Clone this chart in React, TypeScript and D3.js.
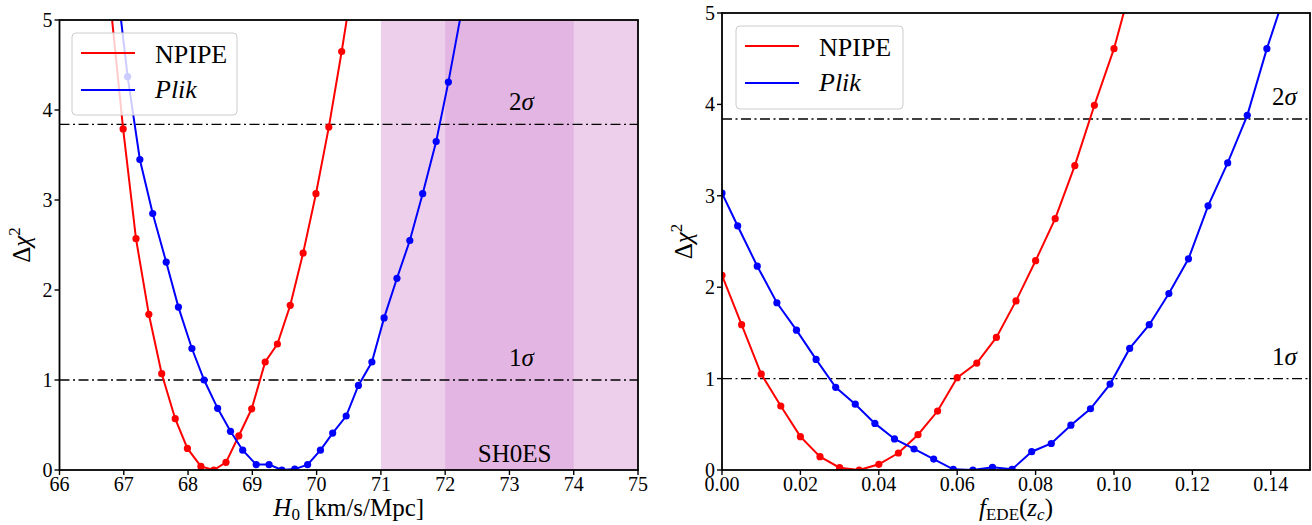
import React from "react";
import * as d3 from "d3";

// ---------- Data ----------
// Left panel: H0 profile
const h0Npipe: number[] = [66.79, 66.99, 67.19, 67.39, 67.59, 67.8, 67.99, 68.2, 68.4, 68.59, 68.79, 68.99, 69.2, 69.39, 69.59, 69.79, 69.99, 70.19, 70.39, 70.59];
const chi2H0Npipe: number[] = [5.2, 3.79, 2.57, 1.73, 1.07, 0.57, 0.24, 0.04, 0.0, 0.085, 0.38, 0.68, 1.2, 1.4, 1.83, 2.41, 3.07, 3.81, 4.65, 5.55];
const h0Plik: number[] = [66.86, 67.06, 67.25, 67.45, 67.66, 67.85, 68.06, 68.25, 68.46, 68.66, 68.85, 69.06, 69.26, 69.46, 69.66, 69.86, 70.06, 70.25, 70.46, 70.65, 70.86, 71.05, 71.25, 71.45, 71.65, 71.86, 72.05, 72.25];
const chi2H0Plik: number[] = [5.6, 4.37, 3.45, 2.85, 2.31, 1.81, 1.35, 1.0, 0.685, 0.43, 0.22, 0.06, 0.06, 0.0, 0.01, 0.06, 0.22, 0.41, 0.6, 0.94, 1.2, 1.69, 2.13, 2.55, 3.07, 3.65, 4.31, 5.08];

// Right panel: f_EDE profile
const fedeNpipe: number[] = [0.0, 0.005, 0.01, 0.015, 0.02, 0.025, 0.03, 0.035, 0.04, 0.045, 0.05, 0.055, 0.06, 0.065, 0.07, 0.075, 0.08, 0.085, 0.09, 0.095, 0.1, 0.105];
const chi2FNpipe: number[] = [2.13, 1.59, 1.05, 0.7, 0.365, 0.146, 0.025, 0.0, 0.062, 0.186, 0.386, 0.645, 1.01, 1.17, 1.45, 1.85, 2.29, 2.75, 3.33, 3.99, 4.61, 5.4];
const fedePlik: number[] = [0.0, 0.004, 0.009, 0.014, 0.019, 0.024, 0.029, 0.034, 0.039, 0.044, 0.049, 0.054, 0.059, 0.064, 0.069, 0.074, 0.079, 0.084, 0.089, 0.094, 0.099, 0.104, 0.109, 0.114, 0.119, 0.124, 0.129, 0.134, 0.139, 0.144];
const chi2FPlik: number[] = [3.03, 2.67, 2.23, 1.83, 1.53, 1.21, 0.905, 0.72, 0.51, 0.34, 0.23, 0.12, 0.008, 0.0, 0.03, 0.008, 0.2, 0.29, 0.49, 0.67, 0.94, 1.33, 1.59, 1.93, 2.31, 2.89, 3.36, 3.88, 4.61, 5.26];

const h0Ticks: number[] = [66, 67, 68, 69, 70, 71, 72, 73, 74, 75];
const fedeTicks: number[] = [0, 0.02, 0.04, 0.06, 0.08, 0.1, 0.12, 0.14];
const yTicks: number[] = [0, 1, 2, 3, 4, 5];
const sigmaLevels: number[] = [1, 3.84];
const sigmaLabels: string[] = ["1", "2"];
const shoesOuter: [number, number] = [71, 75];
const shoesInner: [number, number] = [72, 74];
const seriesNames: string[] = ["NPIPE", "Plik"];
const seriesColors: string[] = ["#ff0000", "#0000ff"];

const FONT = "'Liberation Serif', 'DejaVu Serif', serif";

type Series = { xs: number[]; ys: number[]; color: string };

function Panel(props: {
  id: string;
  xDomain: [number, number];
  xRange: [number, number];
  yRange: [number, number];
  xTicks: number[];
  xFmt: (v: number) => string;
  series: Series[];
  legend: { x: number; y: number; w: number; h: number };
  sigmaLabelX: number;
  sigmaLabelDy: number;
  shade?: boolean;
  xLabel: React.ReactNode;
  xLabelY: number;
  yLabelX: number;
}) {
  const x = d3.scaleLinear().domain(props.xDomain).range(props.xRange);
  const y = d3.scaleLinear().domain([0, 5]).range(props.yRange);
  const [x0, x1] = props.xRange;
  const [yb, yt] = props.yRange;
  const line = d3
    .line<[number, number]>()
    .x((d) => x(d[0]))
    .y((d) => y(d[1]));
  const clipId = `clip-${props.id}`;
  const L = props.legend;
  return (
    <g>
      <defs>
        <clipPath id={clipId}>
          <rect x={x0} y={yt} width={x1 - x0} height={yb - yt} />
        </clipPath>
      </defs>
      {props.shade && (
        <g>
          <rect x={x(shoesOuter[0])} y={yt} width={x(shoesOuter[1]) - x(shoesOuter[0])} height={yb - yt} fill="#EDCFEC" />
          <rect x={x(shoesInner[0])} y={yt} width={x(shoesInner[1]) - x(shoesInner[0])} height={yb - yt} fill="#E3B5E2" />
          <text x={x(73.08)} y={yb - 8} fontFamily={FONT} fontSize={25} textAnchor="middle" fill="#000">
            SH0ES
          </text>
        </g>
      )}
      {sigmaLevels.map((s, i) => (
        <g key={i}>
          <line x1={x0} x2={x1} y1={y(s)} y2={y(s)} stroke="#000" strokeWidth={1.4} strokeDasharray="10,3.5,2,3.5" />
          <text x={props.sigmaLabelX} y={y(s) - props.sigmaLabelDy} fontFamily={FONT} fontSize={25} fill="#000">
            {sigmaLabels[i]}
            <tspan fontStyle="italic">σ</tspan>
          </text>
        </g>
      ))}
      <g clipPath={`url(#${clipId})`}>
        {props.series.map((s, i) => {
          const pts: [number, number][] = s.xs.map((v, j) => [v, s.ys[j]]);
          return (
            <g key={i}>
              <path d={line(pts) || ""} fill="none" stroke={s.color} strokeWidth={2} />
              {pts.map((p, j) => (
                <circle key={j} cx={x(p[0])} cy={y(p[1])} r={3.6} fill={s.color} />
              ))}
            </g>
          );
        })}
      </g>
      {/* legend */}
      <rect x={L.x} y={L.y} width={L.w} height={L.h} rx={4} fill="#fff" fillOpacity={0.8} stroke="#cccccc" strokeWidth={1} />
      {seriesNames.map((n, i) => (
        <g key={n}>
          <line x1={L.x + 9} x2={L.x + 63} y1={L.y + 20 + i * 37} y2={L.y + 20 + i * 37} stroke={seriesColors[i]} strokeWidth={2} />
          <text x={L.x + 83} y={L.y + 30 + i * 35} fontFamily={FONT} fontSize={26} fontStyle={i === 1 ? "italic" : "normal"} fill="#000">
            {n}
          </text>
        </g>
      ))}
      {/* spines */}
      <rect x={x0} y={yt} width={x1 - x0} height={yb - yt} fill="none" stroke="#000" strokeWidth={1.8} />
      {/* x ticks */}
      {props.xTicks.map((t) => (
        <g key={t}>
          <line x1={x(t)} x2={x(t)} y1={yb} y2={yb + 5} stroke="#000" strokeWidth={1.4} />
          <text x={x(t)} y={yb + 21} fontFamily={FONT} fontSize={20} textAnchor="middle" fill="#000">
            {props.xFmt(t)}
          </text>
        </g>
      ))}
      {yTicks.map((t) => (
        <g key={t}>
          <line x1={x0 - 5} x2={x0} y1={y(t)} y2={y(t)} stroke="#000" strokeWidth={1.4} />
          <text x={x0 - 7} y={y(t) + 7} fontFamily={FONT} fontSize={20} textAnchor="end" fill="#000">
            {t}
          </text>
        </g>
      ))}
      <text x={(x0 + x1) / 2} y={props.xLabelY} fontFamily={FONT} fontSize={25} textAnchor="middle" fill="#000">
        {props.xLabel}
      </text>
      <text
        transform={`translate(${props.yLabelX},${(yb + yt) / 2}) rotate(-90)`}
        fontFamily={FONT}
        fontSize={25}
        textAnchor="middle"
        fill="#000"
      >
        Δ<tspan fontStyle="italic">χ</tspan>
        <tspan fontSize={17} dy={-10}>2</tspan>
      </text>
    </g>
  );
}

export default function App() {
  return (
    <svg width={1312} height={525} style={{ display: "block", position: "absolute", left: 0, top: 0, background: "#fff" }}>
      <Panel
        id="h0"
        xDomain={[66, 75]}
        xRange={[59.5, 638]}
        yRange={[470, 20]}
        xTicks={h0Ticks}
        xFmt={(v) => String(v)}
        series={[
          { xs: h0Npipe, ys: chi2H0Npipe, color: seriesColors[0] },
          { xs: h0Plik, ys: chi2H0Plik, color: seriesColors[1] },
        ]}
        legend={{ x: 72, y: 33, w: 165, h: 82 }}
        sigmaLabelX={509}
        sigmaLabelDy={14}
        shade
        xLabel={
          <>
            <tspan fontStyle="italic">H</tspan>
            <tspan fontSize={17} dy={4}>0</tspan>
            <tspan dy={-4}> [km/s/Mpc]</tspan>
          </>
        }
        xLabelY={516}
        yLabelX={30}
      />
      <Panel
        id="fede"
        xDomain={[0, 0.15]}
        xRange={[722, 1310]}
        yRange={[470, 13]}
        xTicks={fedeTicks}
        xFmt={(v) => v.toFixed(2)}
        series={[
          { xs: fedeNpipe, ys: chi2FNpipe, color: seriesColors[0] },
          { xs: fedePlik, ys: chi2FPlik, color: seriesColors[1] },
        ]}
        legend={{ x: 736, y: 26, w: 167, h: 83 }}
        sigmaLabelX={1272}
        sigmaLabelDy={14}
        xLabel={
          <>
            <tspan fontStyle="italic">f</tspan>
            <tspan fontSize={17} dy={4}>EDE</tspan>
            <tspan dy={-4}>(</tspan>
            <tspan fontStyle="italic">z</tspan>
            <tspan fontSize={17} fontStyle="italic" dy={4}>c</tspan>
            <tspan dy={-4}>)</tspan>
          </>
        }
        xLabelY={516}
        yLabelX={692}
      />
    </svg>
  );
}
